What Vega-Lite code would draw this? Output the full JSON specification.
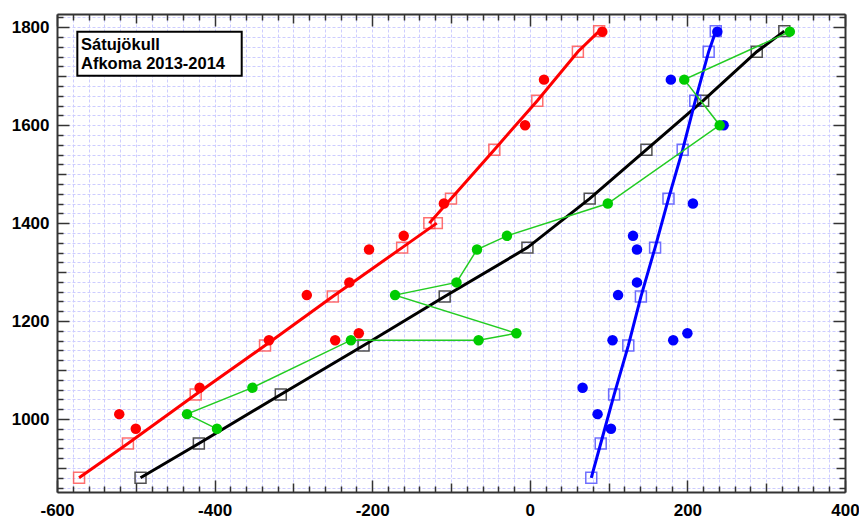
{
  "$schema": "https://vega.github.io/schema/vega-lite/v6.json",
  "width": 788,
  "height": 478,
  "autosize": {"type": "none"},
  "padding": {"left": 57, "top": 14, "right": 14, "bottom": 26},
  "background": "white",
  "config": {
    "view": {"stroke": null},
    "axis": {
      "labelFont": "Liberation Sans",
      "labelFontWeight": "bold",
      "labelFontSize": 17,
      "labelColor": "#000000",
      "labelOverlap": false,
      "labelFlush": false,
      "labelBound": false,
      "domainColor": "#333333",
      "domainWidth": 2,
      "tickColor": "#333333",
      "tickWidth": 1.5,
      "title": null
    }
  },
  "datasets": {
    "stakes": [
      {"order": 1, "elev": 980, "summer": -500, "winter": 103, "net": -397},
      {"order": 2, "elev": 1010, "summer": -521, "winter": 86, "net": -435},
      {"order": 3, "elev": 1064, "summer": -419, "winter": 67, "net": -352},
      {"order": 4, "elev": 1161, "summer": -331, "winter": 105, "net": -227},
      {"order": 5, "elev": 1161, "summer": -247, "winter": 182, "net": -65},
      {"order": 6, "elev": 1175, "summer": -217, "winter": 200, "net": -17},
      {"order": 7, "elev": 1253, "summer": -283, "winter": 112, "net": -171},
      {"order": 8, "elev": 1279, "summer": -229, "winter": 136, "net": -93},
      {"order": 9, "elev": 1346, "summer": -204, "winter": 136, "net": -67},
      {"order": 10, "elev": 1374, "summer": -160, "winter": 131, "net": -29},
      {"order": 11, "elev": 1440, "summer": -109, "winter": 207, "net": 99},
      {"order": 12, "elev": 1600, "summer": -6, "winter": 246, "net": 241},
      {"order": 13, "elev": 1693, "summer": 18, "winter": 179, "net": 196},
      {"order": 14, "elev": 1791, "summer": 92, "winter": 238, "net": 330}
    ],
    "fit": [
      {"series": "summer", "seg": "low", "elev": 880, "value": -572},
      {"series": "summer", "seg": "low", "elev": 950, "value": -510},
      {"series": "summer", "seg": "low", "elev": 1050, "value": -424},
      {"series": "summer", "seg": "low", "elev": 1150, "value": -336},
      {"series": "summer", "seg": "low", "elev": 1250, "value": -250},
      {"series": "summer", "seg": "low", "elev": 1350, "value": -162},
      {"series": "summer", "seg": "low", "elev": 1400, "value": -118},
      {"series": "summer", "seg": "high", "elev": 1400, "value": -127.5},
      {"series": "summer", "seg": "high", "elev": 1450, "value": -100},
      {"series": "summer", "seg": "high", "elev": 1550, "value": -45},
      {"series": "summer", "seg": "high", "elev": 1650, "value": 9.5},
      {"series": "summer", "seg": "high", "elev": 1750, "value": 61},
      {"series": "summer", "seg": "high", "elev": 1792, "value": 88},
      {"series": "winter", "seg": "all", "elev": 880, "value": 78},
      {"series": "winter", "seg": "all", "elev": 950, "value": 90},
      {"series": "winter", "seg": "all", "elev": 1050, "value": 107},
      {"series": "winter", "seg": "all", "elev": 1150, "value": 125},
      {"series": "winter", "seg": "all", "elev": 1250, "value": 141},
      {"series": "winter", "seg": "all", "elev": 1350, "value": 159},
      {"series": "winter", "seg": "all", "elev": 1450, "value": 176},
      {"series": "winter", "seg": "all", "elev": 1550, "value": 194},
      {"series": "winter", "seg": "all", "elev": 1650, "value": 210},
      {"series": "winter", "seg": "all", "elev": 1750, "value": 227},
      {"series": "winter", "seg": "all", "elev": 1792, "value": 236},
      {"series": "net", "seg": "all", "elev": 880, "value": -494},
      {"series": "net", "seg": "all", "elev": 950, "value": -420},
      {"series": "net", "seg": "all", "elev": 1050, "value": -316},
      {"series": "net", "seg": "all", "elev": 1150, "value": -211},
      {"series": "net", "seg": "all", "elev": 1250, "value": -108},
      {"series": "net", "seg": "all", "elev": 1350, "value": -3},
      {"series": "net", "seg": "all", "elev": 1450, "value": 76},
      {"series": "net", "seg": "all", "elev": 1550, "value": 148},
      {"series": "net", "seg": "all", "elev": 1650, "value": 220},
      {"series": "net", "seg": "all", "elev": 1750, "value": 288},
      {"series": "net", "seg": "all", "elev": 1792, "value": 323}
    ]
  },
  "resolve": {"axis": {"x": "independent", "y": "independent"}},
  "layer": [
    {
      "data": {"name": "fit"},
      "transform": [{"filter": "datum.series === 'net'"}],
      "mark": {"type": "point", "shape": "square", "filled": false, "size": 120, "strokeWidth": 1.5, "color": "#333333", "opacity": 0.85},
      "encoding": {
        "x": {"field": "value", "type": "quantitative", "scale": {"domain": [-600, 400], "nice": false, "zero": false},
          "axis": {"orient": "bottom", "grid": true, "gridColor": "#cdcdff", "gridDash": [3, 2], "gridWidth": 1,
            "values": [-600,-580,-560,-540,-520,-500,-480,-460,-440,-420,-400,-380,-360,-340,-320,-300,-280,-260,-240,-220,-200,-180,-160,-140,-120,-100,-80,-60,-40,-20,0,20,40,60,80,100,120,140,160,180,200,220,240,260,280,300,320,340,360,380,400],
            "labelExpr": "datum.value % 200 === 0 ? '' + datum.value : ''",
            "labelPadding": 22,
            "tickSize": {"condition": [{"test": "datum.value % 200 === 0", "value": -12}, {"test": "datum.value % 100 === 0", "value": -9}], "value": -6}}},
        "y": {"field": "elev", "type": "quantitative", "scale": {"domain": [851, 1827], "nice": false, "zero": false},
          "axis": {"orient": "left", "grid": true, "gridColor": "#cdcdff", "gridDash": [3, 2], "gridWidth": 1,
            "values": [860,880,900,920,940,960,980,1000,1020,1040,1060,1080,1100,1120,1140,1160,1180,1200,1220,1240,1260,1280,1300,1320,1340,1360,1380,1400,1420,1440,1460,1480,1500,1520,1540,1560,1580,1600,1620,1640,1660,1680,1700,1720,1740,1760,1780,1800,1820],
            "labelExpr": "datum.value % 200 === 0 ? '' + datum.value : ''",
            "labelPadding": 20,
            "tickSize": {"condition": [{"test": "datum.value % 200 === 0", "value": -12}, {"test": "datum.value % 100 === 0", "value": -9}], "value": -6}}}
      }
    },
    {
      "data": {"name": "fit"},
      "transform": [{"filter": "datum.series === 'winter'"}],
      "mark": {"type": "point", "shape": "square", "filled": false, "size": 120, "strokeWidth": 1.5, "color": "#4040ff", "opacity": 0.75},
      "encoding": {
        "x": {"field": "value", "type": "quantitative", "scale": {"domain": [-600, 400], "nice": false, "zero": false},
          "axis": {"orient": "top", "grid": false, "labels": false,
            "values": [-600,-580,-560,-540,-520,-500,-480,-460,-440,-420,-400,-380,-360,-340,-320,-300,-280,-260,-240,-220,-200,-180,-160,-140,-120,-100,-80,-60,-40,-20,0,20,40,60,80,100,120,140,160,180,200,220,240,260,280,300,320,340,360,380,400],
            "tickSize": {"condition": [{"test": "datum.value % 200 === 0", "value": -12}, {"test": "datum.value % 100 === 0", "value": -9}], "value": -6}}},
        "y": {"field": "elev", "type": "quantitative", "scale": {"domain": [851, 1827], "nice": false, "zero": false},
          "axis": {"orient": "right", "grid": false, "labels": false,
            "values": [860,880,900,920,940,960,980,1000,1020,1040,1060,1080,1100,1120,1140,1160,1180,1200,1220,1240,1260,1280,1300,1320,1340,1360,1380,1400,1420,1440,1460,1480,1500,1520,1540,1560,1580,1600,1620,1640,1660,1680,1700,1720,1740,1760,1780,1800,1820],
            "tickSize": {"condition": [{"test": "datum.value % 200 === 0", "value": -12}, {"test": "datum.value % 100 === 0", "value": -9}], "value": -6}}}
      }
    },
    {
      "data": {"name": "fit"},
      "transform": [{"filter": "datum.series === 'summer'"}],
      "mark": {"type": "point", "shape": "square", "filled": false, "size": 120, "strokeWidth": 1.5, "color": "#ff4040", "opacity": 0.75},
      "encoding": {
        "x": {"field": "value", "type": "quantitative", "scale": {"domain": [-600, 400], "nice": false, "zero": false}, "axis": null},
        "y": {"field": "elev", "type": "quantitative", "scale": {"domain": [851, 1827], "nice": false, "zero": false}, "axis": null}
      }
    },
    {
      "data": {"name": "fit"},
      "transform": [{"filter": "datum.series === 'net'"}],
      "mark": {"type": "line", "color": "#000000", "strokeWidth": 3},
      "encoding": {
        "x": {"field": "value", "type": "quantitative", "scale": {"domain": [-600, 400], "nice": false, "zero": false}, "axis": null},
        "y": {"field": "elev", "type": "quantitative", "scale": {"domain": [851, 1827], "nice": false, "zero": false}, "axis": null},
        "order": {"field": "elev", "type": "quantitative"}
      }
    },
    {
      "data": {"name": "fit"},
      "transform": [{"filter": "datum.series === 'summer'"}],
      "mark": {"type": "line", "color": "#ff0000", "strokeWidth": 3},
      "encoding": {
        "x": {"field": "value", "type": "quantitative", "scale": {"domain": [-600, 400], "nice": false, "zero": false}, "axis": null},
        "y": {"field": "elev", "type": "quantitative", "scale": {"domain": [851, 1827], "nice": false, "zero": false}, "axis": null},
        "detail": {"field": "seg", "type": "nominal"},
        "order": {"field": "elev", "type": "quantitative"}
      }
    },
    {
      "data": {"name": "fit"},
      "transform": [{"filter": "datum.series === 'winter'"}],
      "mark": {"type": "line", "color": "#0000ff", "strokeWidth": 3},
      "encoding": {
        "x": {"field": "value", "type": "quantitative", "scale": {"domain": [-600, 400], "nice": false, "zero": false}, "axis": null},
        "y": {"field": "elev", "type": "quantitative", "scale": {"domain": [851, 1827], "nice": false, "zero": false}, "axis": null},
        "order": {"field": "elev", "type": "quantitative"}
      }
    },
    {
      "data": {"name": "stakes"},
      "mark": {"type": "line", "color": "#22cc22", "strokeWidth": 1.5},
      "encoding": {
        "x": {"field": "net", "type": "quantitative", "scale": {"domain": [-600, 400], "nice": false, "zero": false}, "axis": null},
        "y": {"field": "elev", "type": "quantitative", "scale": {"domain": [851, 1827], "nice": false, "zero": false}, "axis": null},
        "order": {"field": "order", "type": "quantitative"}
      }
    },
    {
      "data": {"name": "stakes"},
      "mark": {"type": "circle", "color": "#0000ff", "size": 110, "opacity": 1},
      "encoding": {
        "x": {"field": "winter", "type": "quantitative", "scale": {"domain": [-600, 400], "nice": false, "zero": false}, "axis": null},
        "y": {"field": "elev", "type": "quantitative", "scale": {"domain": [851, 1827], "nice": false, "zero": false}, "axis": null}
      }
    },
    {
      "data": {"name": "stakes"},
      "mark": {"type": "circle", "color": "#ff0000", "size": 110, "opacity": 1},
      "encoding": {
        "x": {"field": "summer", "type": "quantitative", "scale": {"domain": [-600, 400], "nice": false, "zero": false}, "axis": null},
        "y": {"field": "elev", "type": "quantitative", "scale": {"domain": [851, 1827], "nice": false, "zero": false}, "axis": null}
      }
    },
    {
      "data": {"name": "stakes"},
      "mark": {"type": "circle", "color": "#00cc00", "size": 110, "opacity": 1},
      "encoding": {
        "x": {"field": "net", "type": "quantitative", "scale": {"domain": [-600, 400], "nice": false, "zero": false}, "axis": null},
        "y": {"field": "elev", "type": "quantitative", "scale": {"domain": [851, 1827], "nice": false, "zero": false}, "axis": null}
      }
    },
    {
      "data": {"values": [{}]},
      "mark": {"type": "rect", "fill": "#ffffff", "stroke": "#000000", "strokeWidth": 2},
      "encoding": {
        "x": {"datum": -574.2, "type": "quantitative", "scale": {"domain": [-600, 400], "nice": false, "zero": false}, "axis": null},
        "x2": {"datum": -365.6},
        "y": {"datum": 1791, "type": "quantitative", "scale": {"domain": [851, 1827], "nice": false, "zero": false}, "axis": null},
        "y2": {"datum": 1701}
      }
    },
    {
      "data": {"values": [{}]},
      "mark": {"type": "text", "text": ["Sátujökull", "Afkoma 2013-2014"], "font": "Liberation Sans", "fontWeight": "bold", "fontSize": 16.5, "lineHeight": 18.5, "align": "left", "baseline": "alphabetic", "color": "#000000"},
      "encoding": {
        "x": {"datum": -569.5, "type": "quantitative", "scale": {"domain": [-600, 400], "nice": false, "zero": false}, "axis": null},
        "y": {"datum": 1752.8, "type": "quantitative", "scale": {"domain": [851, 1827], "nice": false, "zero": false}, "axis": null}
      }
    }
  ]
}
